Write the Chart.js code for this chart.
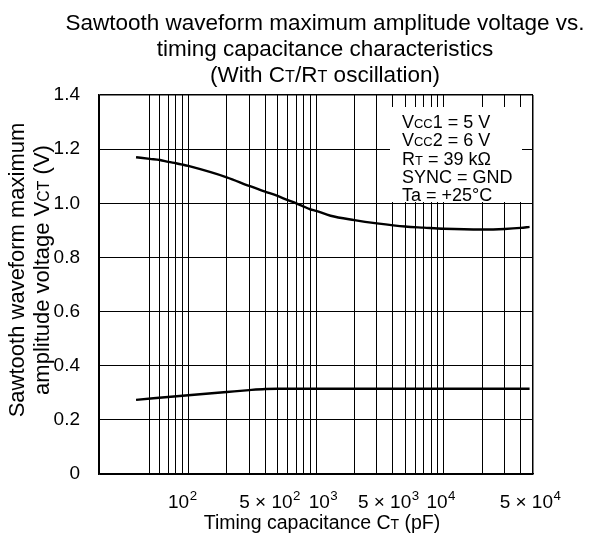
<!DOCTYPE html>
<html>
<head>
<meta charset="utf-8">
<script src="https://cdn.jsdelivr.net/npm/chart.js@4.4.0/dist/chart.umd.min.js"></script>
<style>
  html, body { margin: 0; padding: 0; background: #fff; }
  #wrap { width: 595px; height: 547px; }
</style>
</head>
<body>
<div id="wrap"><canvas id="chart" width="595" height="547"></canvas></div>
<script>
// Sawtooth max amplitude (V) vs timing capacitance CT (pF)
const upperCt = [39, 50, 60, 70, 80, 90, 100, 200, 300, 400, 500, 600, 700, 800, 900, 1000, 1300, 2000, 3000, 5000, 7000, 10000, 20000, 30000, 40000, 47000];
const upperV = [1.170, 1.164, 1.160, 1.153, 1.148, 1.143, 1.138, 1.096, 1.064, 1.043, 1.027, 1.012, 1.000, 0.988, 0.978, 0.972, 0.954, 0.938, 0.926, 0.914, 0.910, 0.906, 0.903, 0.905, 0.909, 0.913];
const lowerCt = [39, 100, 200, 300, 400, 500, 1000, 10000, 47000];
const lowerV = [0.274, 0.291, 0.303, 0.310, 0.314, 0.315, 0.315, 0.315, 0.315];

// grid / ticks
const xGrid = [20, 50, 60, 70, 80, 90, 100, 200, 300, 400, 500, 600, 700, 800, 900, 1000,
  2000, 3000, 4000, 5000, 6000, 7000, 8000, 9000, 10000, 20000, 30000, 40000, 50000];
const xLabelValues = [100, 500, 1000, 5000, 10000, 50000];
const xLabelMantissa = ['', '5', '', '5', '', '5'];
const xLabelExponent = ['2', '2', '3', '3', '4', '4'];
const yTicks = [0, 0.2, 0.4, 0.6, 0.8, 1.0, 1.2, 1.4];

// texts ({...} = small capitals)
const titleLines = ['Sawtooth waveform maximum amplitude voltage vs.', 'timing capacitance characteristics', '(With C{T}/R{T} oscillation)'];
const yTitleLines = ['Sawtooth waveform maximum', 'amplitude voltage V{CT} (V)'];
const xTitle = 'Timing capacitance C{T} (pF)';
const conditions = ['V{CC}1 = 5 V', 'V{CC}2 = 6 V', 'R{T} = 39 kΩ', 'SYNC = GND', 'Ta = +25°C'];

const FONT = '"Liberation Sans", Arial, Helvetica, sans-serif';
const xLabelNudge = [-6, -8, 7, -17, -3, -3];

function toPoints(xs, ys) {
    return xs.map((x, i) => ({ x: x, y: ys[i] }));
}

function parts(str) {
    return str.split(/(\{[^}]*\})/).filter(s => s).map(s =>
        s[0] === '{' ? { t: s.slice(1, -1), small: true } : { t: s, small: false });
}

function drawRich(ctx, str, x, y, size, align) {
    const segs = parts(str);
    const fontOf = sm => (sm ? size * 0.72 : size) + 'px ' + FONT;
    let total = 0;
    segs.forEach(s => {
        ctx.font = fontOf(s.small);
        s.w = ctx.measureText(s.t).width;
        total += s.w;
    });
    let cx = align === 'center' ? x - total / 2 : x;
    ctx.textAlign = 'left';
    ctx.textBaseline = 'alphabetic';
    segs.forEach(s => {
        ctx.font = fontOf(s.small);
        ctx.fillText(s.t, cx, y);
        cx += s.w;
    });
}

const textPlugin = {
    id: 'texts',
    beforeDatasetsDraw(chart) {
        // conditions box
        const ctx = chart.ctx;
        const area = chart.chartArea;
        const bx = area.right - 143, by = area.top + 12;
        ctx.save();
        ctx.fillStyle = '#fff';
        ctx.fillRect(bx, by, 132, 95);
        ctx.fillStyle = '#000';
        conditions.forEach((line, i) => drawRich(ctx, line, bx + 12, by + 21 + i * 18.3, 18, 'left'));
        ctx.restore();
    },
    afterDraw(chart) {
        const ctx = chart.ctx;
        const xs = chart.scales.x;
        ctx.save();
        ctx.fillStyle = '#000';

        titleLines.forEach((line, i) => drawRich(ctx, line, 325, 30 + i * 26, 22.5, 'center'));

        yTitleLines.forEach((line, i) => {
            ctx.save();
            ctx.translate(24 + i * 25, 270);
            ctx.rotate(-Math.PI / 2);
            drawRich(ctx, line, 0, 0, 22, 'center');
            ctx.restore();
        });

        drawRich(ctx, xTitle, 322, 529, 19.5, 'center');

        // x tick labels with superscript exponents
        const size = 19;
        xLabelValues.forEach((v, i) => {
            const base = xLabelMantissa[i] ? xLabelMantissa[i] + ' \u00d7 10' : '10';
            ctx.font = size + 'px ' + FONT;
            const wb = ctx.measureText(base).width;
            ctx.font = (size * 0.7) + 'px ' + FONT;
            const we = ctx.measureText(xLabelExponent[i]).width;
            const px = xs.getPixelForValue(v) + xLabelNudge[i];
            const left = px - (wb + we) / 2;
            ctx.textAlign = 'left';
            ctx.textBaseline = 'alphabetic';
            ctx.font = size + 'px ' + FONT;
            ctx.fillText(base, left, 508);
            ctx.font = (size * 0.7) + 'px ' + FONT;
            ctx.fillText(xLabelExponent[i], left + wb + 0.5, 500);
        });
        ctx.restore();
    }
};

new Chart(document.getElementById('chart'), {
    type: 'line',
    data: {
        datasets: [
            { data: toPoints(upperCt, upperV), borderColor: '#000', borderWidth: 2.4, pointRadius: 0, fill: false, cubicInterpolationMode: 'monotone' },
            { data: toPoints(lowerCt, lowerV), borderColor: '#000', borderWidth: 2.4, pointRadius: 0, fill: false, cubicInterpolationMode: 'monotone' }
        ]
    },
    options: {
        responsive: false,
        animation: false,
        events: [],
        layout: { padding: { top: 95, right: 62, left: 0, bottom: 0 } },
        plugins: { legend: { display: false }, title: { display: false }, tooltip: { enabled: false } },
        scales: {
            x: {
                type: 'logarithmic',
                min: 20,
                max: 50000,
                afterBuildTicks: s => { s.ticks = xGrid.map(v => ({ value: v })); },
                afterFit: s => { s.height = 73; },
                ticks: { display: false },
                grid: {
                    color: '#000',
                    drawTicks: false,
                    lineWidth: c => (c.tick && c.tick.value === xGrid[xGrid.length - 1] ? 1.5 : 1)
                },
                border: { color: '#000', width: 1.5 }
            },
            y: {
                min: 0,
                max: 1.4,
                afterBuildTicks: s => { s.ticks = yTicks.map(v => ({ value: v })); },
                afterFit: s => { s.width = 99; },
                ticks: {
                    color: '#000',
                    padding: 19,
                    font: { family: FONT, size: 19 },
                    callback: v => (v === 0 ? '0' : Number(v).toFixed(1))
                },
                grid: {
                    color: '#000',
                    drawTicks: false,
                    lineWidth: c => (c.tick && c.tick.value === yTicks[yTicks.length - 1] ? 1.5 : 1)
                },
                border: { color: '#000', width: 1.5 }
            }
        }
    },
    plugins: [textPlugin]
});
</script>
</body>
</html>
